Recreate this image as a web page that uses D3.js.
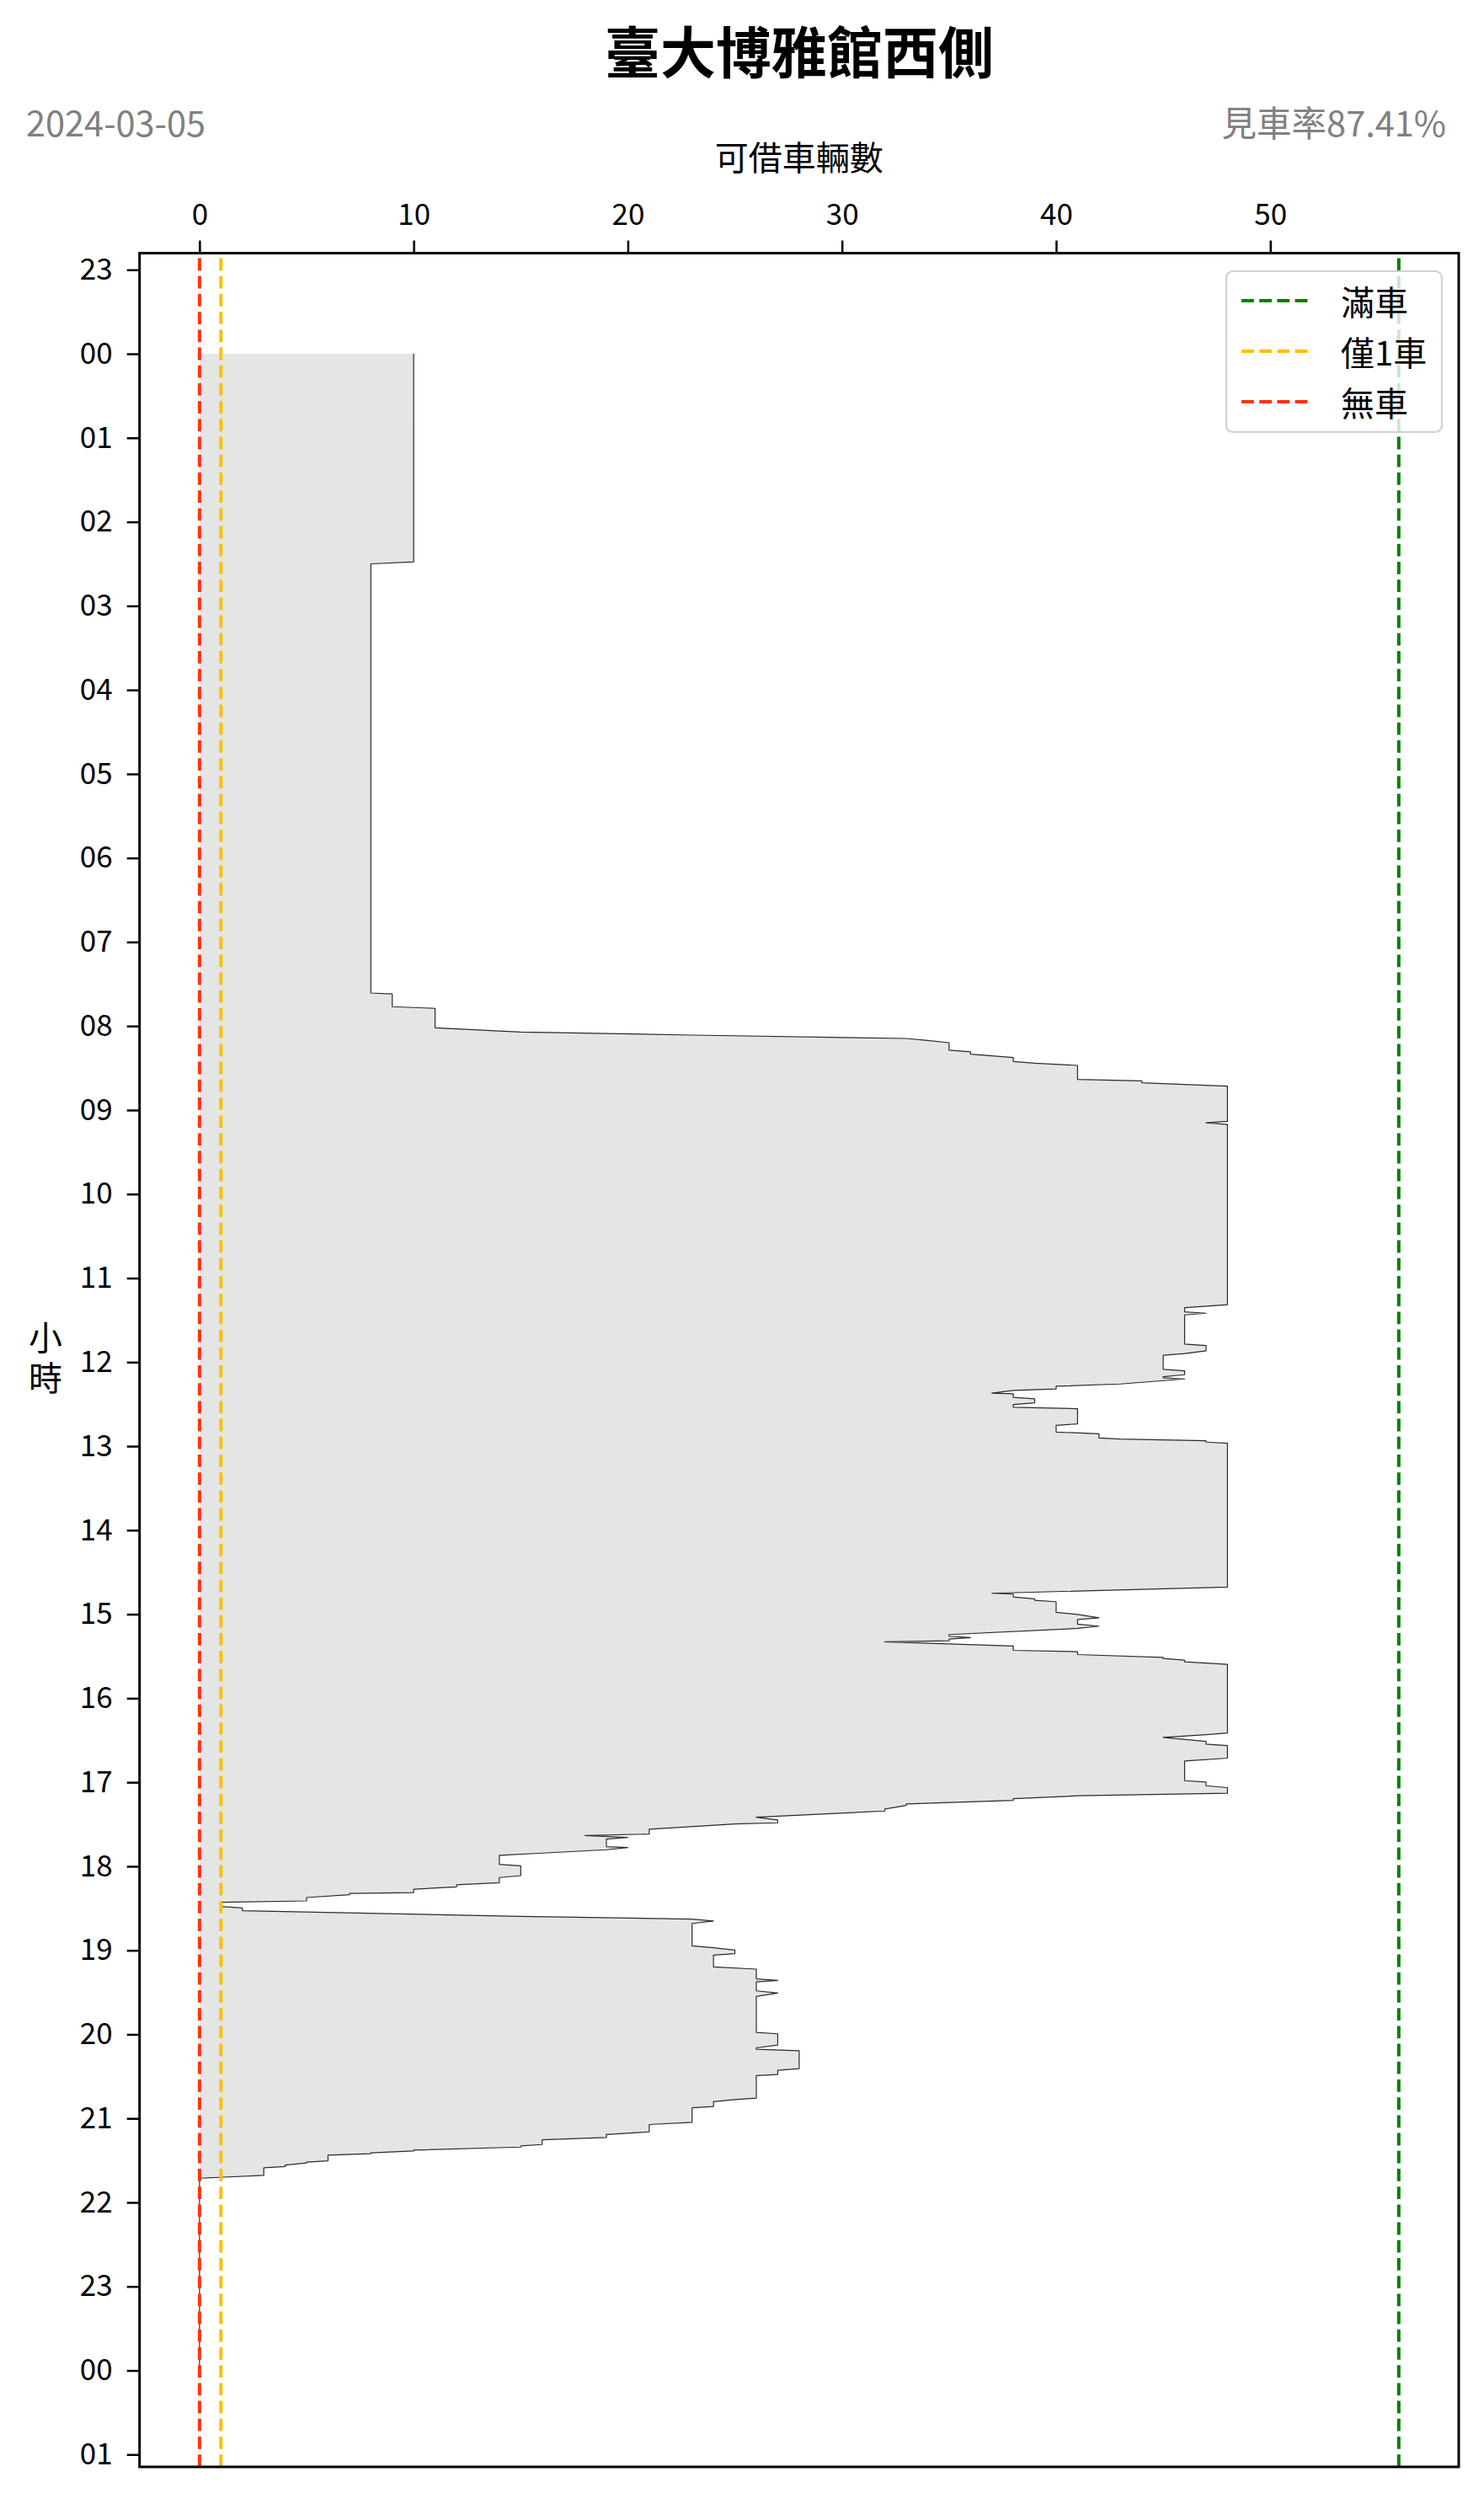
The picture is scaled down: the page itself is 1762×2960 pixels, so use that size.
<!DOCTYPE html>
<html>
<head>
<meta charset="utf-8">
<script src="https://cdn.jsdelivr.net/npm/d3@7"></script>
<style>
  html, body { margin: 0; padding: 0; background: #fff; }
  svg { display: block; }
  text { font-family: "Noto Sans CJK TC", "Noto Sans CJK SC", "Noto Sans", sans-serif; }
</style>
</head>
<body>
<script>
// ---------------- DATA ----------------
const title = "臺大博雅館西側";
const dateText = "2024-03-05";
const rateText = "見車率87.41%";
const xLabel = "可借車輛數";
const yLabel = "小時";
const capacity = 56;

// time of day in hours (0 = 00:00 of the date), and available bikes
const hours = [
  0.000, 2.476, 2.500, 7.607, 7.619, 7.770, 7.790, 8.021, 8.071, 8.108, 8.148, 8.171, 8.198, 8.288,
  8.308, 8.335, 8.375, 8.422, 8.442, 8.469, 8.636, 8.653, 8.676, 8.716, 9.134, 9.151, 9.171,
  11.317, 11.351, 11.401, 11.418, 11.438, 11.785, 11.802, 11.866, 11.899, 11.919, 12.086, 12.103,
  12.150, 12.173, 12.186, 12.200, 12.260, 12.287, 12.320, 12.337, 12.370, 12.377, 12.420, 12.437,
  12.484, 12.504, 12.538, 12.554, 12.735, 12.752, 12.832, 12.852, 12.902, 12.915, 12.936, 12.952,
  12.966, 14.677, 14.751, 14.761, 14.794, 14.818, 14.835, 14.851, 14.978, 15.002, 15.042, 15.062,
  15.119, 15.142, 15.169, 15.242, 15.262, 15.279, 15.296, 15.316, 15.329, 15.379, 15.430, 15.446,
  15.480, 15.513, 15.527, 15.547, 15.567, 15.597, 16.413, 16.433, 16.466, 16.513, 16.546, 16.563,
  16.713, 16.747, 16.981, 16.998, 17.041, 17.064, 17.131, 17.161, 17.195, 17.215, 17.258, 17.275,
  17.319, 17.342, 17.416, 17.449, 17.482, 17.496, 17.559, 17.616, 17.633, 17.656, 17.676, 17.767,
  17.777, 17.803, 17.843, 17.870, 17.977, 17.994, 18.111, 18.134, 18.195, 18.221, 18.245, 18.272,
  18.312, 18.322, 18.338, 18.372, 18.412, 18.429, 18.479, 18.495, 18.529, 18.596, 18.629, 18.652,
  18.680, 18.947, 18.970, 18.997, 19.040, 19.057, 19.198, 19.224, 19.341, 19.358, 19.375, 19.482,
  19.509, 19.549, 19.977, 19.993, 20.127, 20.161, 20.177, 20.194, 20.408, 20.428, 20.478, 20.491,
  20.759, 20.776, 20.802, 20.859, 20.873, 21.047, 21.073, 21.160, 21.193, 21.227, 21.254, 21.311,
  21.327, 21.341, 21.377, 21.387, 21.411, 21.421, 21.438, 21.505, 21.521, 21.530, 21.555, 21.572,
  21.588, 21.679, 21.712, 23.950
];
const bikes = [
  10, 10, 8, 8, 9, 9, 11, 11, 15, 23, 33, 34, 35, 35,
  36, 36, 38, 38, 39, 41, 41, 44, 44, 48, 48, 47, 48,
  48, 46, 46, 47, 46, 46, 47, 47, 46, 45, 45, 46,
  46, 45, 45, 46, 43, 40, 40, 38, 37, 38, 38, 39,
  39, 38, 38, 41, 41, 40, 40, 42, 42, 43, 47, 47,
  48, 48, 37, 38, 38, 39, 39, 40, 40, 41, 42, 41,
  41, 42, 41, 35, 35, 36, 35, 35, 32, 38, 38, 41,
  41, 45, 45, 46, 46, 48, 48, 47, 45, 47, 47, 48,
  48, 46, 46, 47, 47, 48, 48, 41, 38, 38, 33, 33,
  32, 32, 26, 27, 27, 25, 21, 21, 18, 20, 19, 19,
  20, 19, 16, 14, 14, 15, 15, 14, 14, 12, 12, 10,
  10, 7, 7, 5, 5, 1, 1, 2, 2, 15, 23, 24,
  23, 23, 24, 25, 25, 24, 24, 26, 26, 27, 26, 26,
  27, 26, 26, 27, 27, 26, 26, 28, 28, 27, 27, 26,
  26, 25, 24, 24, 23, 23, 21, 21, 19, 19, 16, 16,
  15, 15, 10, 10, 8, 8, 6, 6, 5, 5, 4, 4,
  3, 3, 0, 0
];

const xTicks = [0, 10, 20, 30, 40, 50];
const yTicks = d3.range(-1, 26); // hour positions: 23, 00 ... 23, 00, 01
const refLines = [
  { value: capacity, label: "滿車", color: "#008000" },
  { value: 1, label: "僅1車", color: "#FFBF00" },
  { value: 0, label: "無車", color: "#FF3311" }
];

// ---------------- LAYOUT ----------------
const W = 1762, H = 2960;
const plot = { left: 165.7, right: 1732, top: 300.6, bottom: 2929 };
const data = hours.map((h, i) => ({ h, v: bikes[i] }));

const xPad = 0.05 * (capacity - 0);
const x = d3.scaleLinear().domain([0 - xPad, capacity + xPad]).range([plot.left, plot.right]);
const hMin = d3.min(hours), hMax = d3.max(hours);
const yPad = 0.05 * (hMax - hMin);
const y = d3.scaleLinear().domain([hMin - yPad, hMax + yPad]).range([plot.top, plot.bottom]);

const svg = d3.select("body").append("svg").attr("width", W).attr("height", H);
svg.append("rect").attr("width", W).attr("height", H).attr("fill", "#fff");

// Title and side texts
svg.append("text").attr("x", 949).attr("y", 58).attr("text-anchor", "middle")
  .attr("dominant-baseline", "central").attr("font-size", 66).attr("font-weight", "bold")
  .attr("fill", "#000").text(title);
svg.append("text").attr("x", 31).attr("y", 162).attr("font-size", 41.5).attr("fill", "#808080").text(dateText);
svg.append("text").attr("x", 1717).attr("y", 162).attr("text-anchor", "end").attr("font-size", 41.5)
  .attr("fill", "#808080").text(rateText);
svg.append("text").attr("x", (plot.left + plot.right) / 2).attr("y", 185).attr("text-anchor", "middle")
  .attr("dominant-baseline", "central").attr("font-size", 40).attr("fill", "#000").text(xLabel);
// vertical stacked y label (single text element, upright characters)
svg.append("text").attr("x", 54).attr("y", 1588 - 20)
  .style("writing-mode", "vertical-rl").style("text-orientation", "upright")
  .attr("letter-spacing", 8).attr("font-size", 40).attr("fill", "#000").text(yLabel);

// Clip for plot
svg.append("defs").append("clipPath").attr("id", "clip").append("rect")
  .attr("x", plot.left).attr("y", plot.top)
  .attr("width", plot.right - plot.left).attr("height", plot.bottom - plot.top);

const g = svg.append("g").attr("clip-path", "url(#clip)");

// Area fill
const area = d3.area().y(d => y(d.h)).x0(x(0)).x1(d => x(d.v));
g.append("path").datum(data).attr("d", area).attr("fill", "#e5e5e5").attr("stroke", "none");

// Line
const line = d3.line().y(d => y(d.h)).x(d => x(d.v));
g.append("path").datum(data).attr("d", line).attr("fill", "none")
  .attr("stroke", "#2a2a2a").attr("stroke-width", 1.2).attr("stroke-linejoin", "round");

// Reference dashed lines (drawn from bottom to top)
[refLines[2], refLines[1], refLines[0]].forEach(r => {
  g.append("line").attr("x1", x(r.value)).attr("x2", x(r.value))
    .attr("y1", plot.bottom).attr("y2", plot.top)
    .attr("stroke", r.color).attr("stroke-width", 4).attr("stroke-dasharray", "14.8,6.4");
});

// Axes
const xAxis = d3.axisTop(x).tickValues(xTicks).tickSize(15).tickPadding(19).tickFormat(d3.format("d"));
const gx = svg.append("g").attr("transform", `translate(0,${plot.top})`).call(xAxis);
gx.select(".domain").remove();
gx.selectAll(".tick line").attr("stroke", "#000").attr("stroke-width", 2.5);
gx.selectAll(".tick text").attr("font-size", 35).attr("fill", "#000")
  .attr("font-family", '"Noto Sans CJK TC", sans-serif');

const yAxis = d3.axisLeft(y).tickValues(yTicks).tickSize(15).tickPadding(17)
  .tickFormat(h => String(((h % 24) + 24) % 24).padStart(2, "0"));
const gy = svg.append("g").attr("transform", `translate(${plot.left},0)`).call(yAxis);
gy.select(".domain").remove();
gy.selectAll(".tick line").attr("stroke", "#000").attr("stroke-width", 2.5);
gy.selectAll(".tick text").attr("font-size", 35).attr("fill", "#000")
  .attr("font-family", '"Noto Sans CJK TC", sans-serif');

// Spines
svg.append("rect").attr("x", plot.left).attr("y", plot.top)
  .attr("width", plot.right - plot.left).attr("height", plot.bottom - plot.top)
  .attr("fill", "none").attr("stroke", "#000").attr("stroke-width", 3);

// Legend
const lg = svg.append("g");
lg.append("rect").attr("x", 1456).attr("y", 322).attr("width", 256).attr("height", 191)
  .attr("rx", 8).attr("fill", "#fff").attr("fill-opacity", 0.8)
  .attr("stroke", "#d0d0d0").attr("stroke-width", 2.2);
refLines.forEach((r, i) => {
  const yy = 357 + i * 60;
  lg.append("line").attr("x1", 1474).attr("x2", 1556).attr("y1", yy).attr("y2", yy)
    .attr("stroke", r.color).attr("stroke-width", 4).attr("stroke-dasharray", "14.8,6.4");
  lg.append("text").attr("x", 1592).attr("y", yy).attr("dominant-baseline", "central")
    .attr("font-size", 40).attr("fill", "#000").text(r.label);
});
</script>
</body>
</html>
